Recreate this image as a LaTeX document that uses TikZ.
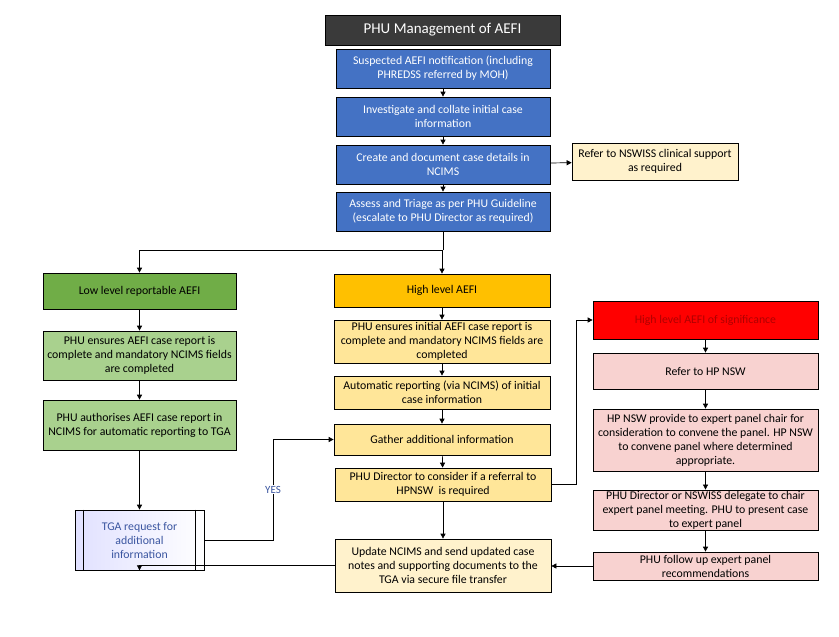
\documentclass[tikz,border=0pt]{standalone}
\usepackage{fontspec}
\setmainfont{Carlito}
\usetikzlibrary{arrows.meta}

\definecolor{titlegray}{HTML}{3A3A3A}
\definecolor{stepblue}{HTML}{4472C4}
\definecolor{lowdark}{HTML}{70AD47}
\definecolor{lowlight}{HTML}{A9D18E}
\definecolor{highdark}{HTML}{FFC000}
\definecolor{highlight}{HTML}{FFE699}
\definecolor{highpale}{HTML}{FFF2CC}
\definecolor{sigred}{HTML}{FF0000}
\definecolor{sigtext}{HTML}{B00000}
\definecolor{sigpink}{HTML}{F8D2D0}
\definecolor{tgablue}{HTML}{3A55A0}

\tikzset{
  flowbox/.style={draw=black, line width=0.7pt, align=center, inner sep=1pt,
    font=\fontsize{11.8}{14}\selectfont},
  arr/.style={-{Triangle[length=5pt,width=5pt]}, line width=0.7pt},
}

\begin{document}
\begin{tikzpicture}[x=1pt, y=-1pt]

\useasboundingbox (0,0) rectangle (839,637);

% Top: common steps
\node[flowbox, fill=titlegray, text=white, minimum width=235, minimum height=30,
  font=\fontsize{15}{17}\selectfont] (title) at (442.5,30) {PHU Management of AEFI};

\node[flowbox, fill=stepblue, text=white, minimum width=214, minimum height=39]
  (notify) at (443,68.5) {Suspected AEFI notification (including\\PHREDSS referred by MOH)};
\node[flowbox, fill=stepblue, text=white, minimum width=214, minimum height=39]
  (investigate) at (443,116.5) {Investigate and collate initial case\\information};
\node[flowbox, fill=stepblue, text=white, minimum width=214, minimum height=39]
  (create) at (443,164.5) {Create and document case details in\\NCIMS};
\node[flowbox, fill=stepblue, text=white, minimum width=214, minimum height=39]
  (assess) at (443,211.5) {Assess and Triage as per PHU Guideline\\(escalate to PHU Director as required)};

\node[flowbox, fill=highpale, minimum width=166, minimum height=37]
  (nswiss) at (655,161.5) {Refer to NSWISS clinical support\\as required};

% Left column: low level
\node[flowbox, fill=lowdark, minimum width=193, minimum height=36]
  (low) at (139.5,291) {Low level reportable AEFI};
\node[flowbox, fill=lowlight, minimum width=193, minimum height=49]
  (lowcheck) at (139.5,355.5) {PHU ensures AEFI case report is\\complete and mandatory NCIMS fields\\are completed};
\node[flowbox, fill=lowlight, minimum width=193, minimum height=50]
  (lowauth) at (139.5,425) {PHU authorises AEFI case report in\\NCIMS for automatic reporting to TGA};

\node[flowbox, left color=blue!12!white, right color=white, text=tgablue,
  minimum width=129, minimum height=60]
  (tga) at (139.5,540) {TGA request for\\additional\\information};
\draw[line width=0.7pt] ([xshift=9]tga.north west) -- ([xshift=9]tga.south west);
\draw[line width=0.7pt] ([xshift=-9]tga.north east) -- ([xshift=-9]tga.south east);

% Middle column: high level
\node[flowbox, fill=highdark, minimum width=216, minimum height=33]
  (high) at (442,290.5) {High level AEFI};
\node[flowbox, fill=highlight, minimum width=216, minimum height=43]
  (highcheck) at (442,341.5) {PHU ensures initial AEFI case report is\\complete and mandatory NCIMS fields are\\completed};
\node[flowbox, fill=highlight, minimum width=216, minimum height=33]
  (autoreport) at (442,392.5) {Automatic reporting (via NCIMS) of initial\\case information};
\node[flowbox, fill=highlight, minimum width=216, minimum height=31]
  (gather) at (442,439.5) {Gather additional information};
\node[flowbox, fill=highlight, minimum width=216, minimum height=33]
  (director) at (443,484.5) {PHU Director to consider if a referral to\\HPNSW\ \ is required};
\node[flowbox, fill=highpale, minimum width=216, minimum height=53]
  (update) at (443,565.5) {Update NCIMS and send updated case\\notes and supporting documents to the\\TGA via secure file transfer};

% Right column: significance
\node[flowbox, fill=sigred, text=sigtext, minimum width=225, minimum height=38]
  (sig) at (705.5,320) {High level AEFI of significance};
\node[flowbox, fill=sigpink, minimum width=225, minimum height=36]
  (refer) at (705.5,371) {Refer to HP NSW};
\node[flowbox, fill=sigpink, minimum width=225, minimum height=62]
  (panel) at (705.5,440) {HP NSW provide to expert panel chair for\\consideration to convene the panel. HP NSW\\to convene panel where determined\\appropriate.};
\node[flowbox, fill=sigpink, minimum width=225, minimum height=40]
  (chair) at (705.5,510) {PHU Director or NSWISS delegate to chair\\expert panel meeting. PHU to present case\\to expert panel};
\node[flowbox, fill=sigpink, minimum width=225, minimum height=28]
  (followup) at (705.5,566) {PHU follow up expert panel\\recommendations};

% Connectors
\draw[arr] (notify) -- (investigate);
\draw[arr] (investigate) -- (create);
\draw[arr] (create) -- (assess);
\draw[arr] (create) -- (nswiss);

\coordinate (split) at (443,250);
\draw[line width=0.7pt] (assess) -- (split);
\draw[arr] (split) -| (low);
\draw[arr] (split) -| (high);

\draw[arr] (low) -- (lowcheck);
\draw[arr] (lowcheck) -- (lowauth);
\draw[arr] (lowauth) -- (tga);

\draw[arr] (high) -- (highcheck);
\draw[arr] (highcheck) -- (autoreport);
\draw[arr] (autoreport) -- (gather);
\draw[arr] (gather) -- (director);
\draw[arr] (director) -- (update);

\coordinate (yesbend) at (273,540);
\draw[arr] (tga.east) -- (yesbend) |- node[pos=0.25, fill=white, text=tgablue, inner sep=1pt,
  font=\fontsize{11}{13}\selectfont] (yes) {YES} (gather.west);

\coordinate (sigbend) at (576,484.5);
\draw[arr] (director.east) -- (sigbend) |- (sig.west);

\draw[arr] (sig) -- (refer);
\draw[arr] (refer) -- (panel);
\draw[arr] (panel) -- (chair);
\draw[arr] (chair) -- (followup);
\draw[arr] (followup.west) -- (followup.west -| update.east);
\draw[arr] (update.west) -| (tga.south);

\end{tikzpicture}
\end{document}
